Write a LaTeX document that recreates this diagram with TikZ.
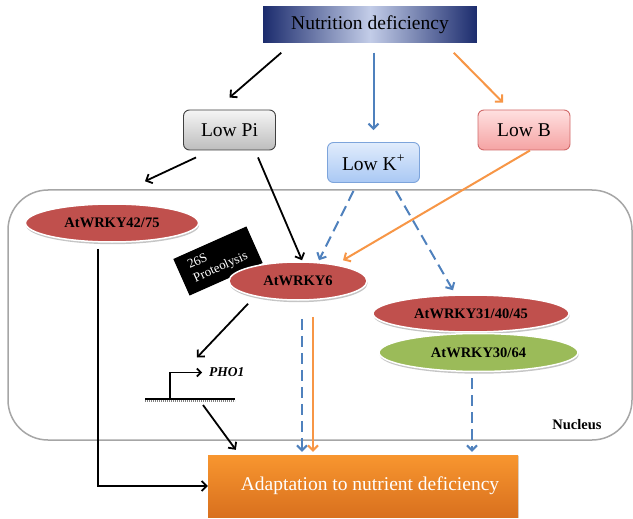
\documentclass[tikz,border=0pt]{standalone}
\usepackage{fontspec}
\setmainfont{Liberation Serif}
\usetikzlibrary{arrows.meta,shadows,shapes.geometric,calc}
\definecolor{wred}{HTML}{C0504D}
\definecolor{wgreen}{HTML}{9BBB59}
\definecolor{ablue}{HTML}{4F81BD}
\definecolor{aorange}{HTML}{F79646}
\definecolor{navyd}{HTML}{1A2A6C}
\definecolor{navyl}{HTML}{C3CDE8}
\definecolor{pitop}{HTML}{F5F5F5}
\definecolor{pibot}{HTML}{BDBDBD}
\definecolor{ktop}{HTML}{E1ECFC}
\definecolor{kbot}{HTML}{A9C8F4}
\definecolor{kdraw}{HTML}{7DA4DB}
\definecolor{btop}{HTML}{FFE0E0}
\definecolor{bbot}{HTML}{F5A3A3}
\definecolor{bdraw}{HTML}{D16A6A}
\definecolor{adtop}{HTML}{F8962F}
\definecolor{adbot}{HTML}{D9701E}
\definecolor{nucdraw}{HTML}{A6A6A6}
\tikzset{
  bigtext/.style={font=\fontsize{19.5}{22}\selectfont},
  lowbox/.style={bigtext, rounded corners=6pt, line width=0.9pt, minimum width=92pt, minimum height=40pt, inner sep=0pt},
  wk/.style={ellipse, fill=wred, draw=white, line width=1.5pt, inner sep=0pt,
    drop shadow={shadow xshift=0.6pt, shadow yshift=-2.2pt, opacity=0.45},
    font=\bfseries\fontsize{14.5}{17}\selectfont},
  barb/.style={-{Straight Barb[length=5pt,width=10pt]}},
  blk/.style={barb, draw=black, line width=1.8pt},
  bluesolid/.style={barb, draw=ablue, line width=2pt},
  bluedash/.style={barb, draw=ablue, line width=2pt, dash pattern=on 11pt off 6pt},
  orng/.style={barb, draw=aorange, line width=2pt},
}
\begin{document}
\begin{tikzpicture}[x=1pt,y=-1pt]
\useasboundingbox[fill=white] (0,0) rectangle (633,519);

% nucleus
\node[draw=nucdraw, line width=1.5pt, rounded corners=40pt, minimum width=624pt, minimum height=250pt, inner sep=0pt] (nucleus) at (320,315) {};
\node[font=\bfseries\fontsize{14.5}{17}\selectfont] (nuc) at (577,425) {Nucleus};

% top boxes
\node[bigtext, left color=navyd, right color=navyd, middle color=navyl, draw=white, line width=1.5pt,
  minimum width=216pt, minimum height=39pt, inner sep=0pt,
  drop shadow={shadow xshift=0.5pt, shadow yshift=-1pt, opacity=0.25}] (nutr) at (370,24.5) {Nutrition deficiency};
\node[lowbox, top color=pitop, bottom color=pibot, draw=black!75] (lowpi) at (229.5,130) {Low Pi};
\node[lowbox, top color=ktop, bottom color=kbot, draw=kdraw] (lowk) at (373.5,162.5) {Low K\textsuperscript{+}};
\node[lowbox, top color=btop, bottom color=bbot, draw=bdraw] (lowb) at (524,130) {Low B};

% 26S box
\node[fill=black, text=white, rotate=24, minimum width=80pt, minimum height=40pt, align=left,
  font=\fontsize{13}{14.5}\selectfont, inner sep=3pt] (prot) at (218,261) {26S\\Proteolysis};

% WRKY ellipses
\node[wk, minimum width=173pt, minimum height=38pt] (w4275) at (112,223) {AtWRKY42/75};
\node[wk, minimum width=138pt, minimum height=38pt] (w6) at (298,281) {AtWRKY6};
\node[wk, minimum width=196pt, minimum height=37pt] (w31) at (471,313.5) {AtWRKY31/40/45};
\node[wk, fill=wgreen, minimum width=199pt, minimum height=38pt] (w30) at (478.5,352.5) {AtWRKY30/64};

% PHO1 gene
\coordinate (gl) at (145,399);
\coordinate (gr) at (235,399);
\coordinate (tss) at (170,399);
\node[anchor=west, font=\bfseries\itshape\fontsize{13.5}{15}\selectfont, inner sep=0pt] (pho1) at (209,372.5) {PHO1};
\draw[gray, line width=2.6pt, dash pattern=on 0.8pt off 1.2pt] ([yshift=-2pt]gl) -- ([yshift=-2pt]gr);
\draw[line width=1.8pt] (gl) -- (gr);
\draw[line width=1.7pt, -{Straight Barb[length=4pt,width=8pt]}] (tss) |- ([xshift=-7pt]pho1.west);

% adaptation
\node[bigtext, top color=adtop, bottom color=adbot, text=white, minimum width=310pt, minimum height=62pt, inner sep=0pt,
  drop shadow={shadow xshift=1pt, shadow yshift=-1pt, opacity=0.3}] (adapt) at (363,486) {\hspace*{14pt}Adaptation to nutrient deficiency};

% arrows from nutrition deficiency
\draw[blk] ([xshift=20pt,yshift=-8pt]nutr.south west) -- ([yshift=12pt]lowpi.north);
\draw[bluesolid] ([xshift=3.5pt,yshift=-8pt]nutr.south) -- ([yshift=12pt]lowk.north);
\draw[orng] ([xshift=-25pt,yshift=-8pt]nutr.south east) -- ([xshift=-21pt,yshift=7pt]lowb.north);

% from Low Pi
\draw[blk] ([xshift=-33.5pt,yshift=-7pt]lowpi.south) -- ([xshift=33pt,yshift=22pt]w4275.north);
\draw[blk] ([xshift=28.5pt,yshift=-7pt]lowpi.south) -- ([xshift=4pt,yshift=1pt]w6.north);

% from Low K+
\draw[bluedash] ([xshift=-20pt,yshift=-8pt]lowk.south) -- ([xshift=21pt,yshift=1pt]w6.north);
\draw[bluedash] ([xshift=22.5pt,yshift=-8pt]lowk.south) -- ([xshift=-18pt,yshift=4pt]w31.north);

% from Low B
\draw[orng] ([xshift=6pt]lowb.south) -- ([xshift=45pt,yshift=1pt]w6.north);

% to adaptation
\coordinate (s42) at ([xshift=-14pt,yshift=-6pt]w4275.south);
\draw[blk] (s42) |- (adapt.west);
\draw[blk] ([xshift=-50pt,yshift=-3pt]w6.south) -- ([xshift=-12pt,yshift=15pt]pho1.west);
\draw[blk] ([xshift=-32pt,yshift=-6pt]gr) -- ([xshift=28pt,yshift=5pt]adapt.north west);
\coordinate (d6) at ([xshift=4pt,yshift=-18pt]w6.south);
\coordinate (o6) at ([xshift=15pt,yshift=-16pt]w6.south);
\coordinate (d30) at ([xshift=-6.5pt,yshift=-6pt]w30.south);
\draw[bluedash, shorten >=3pt] (d6) -- (d6 |- adapt.north);
\draw[orng, shorten >=3pt] (o6) -- (o6 |- adapt.north);
\draw[bluedash, shorten >=3pt] (d30) -- (d30 |- adapt.north);
\end{tikzpicture}
\end{document}
